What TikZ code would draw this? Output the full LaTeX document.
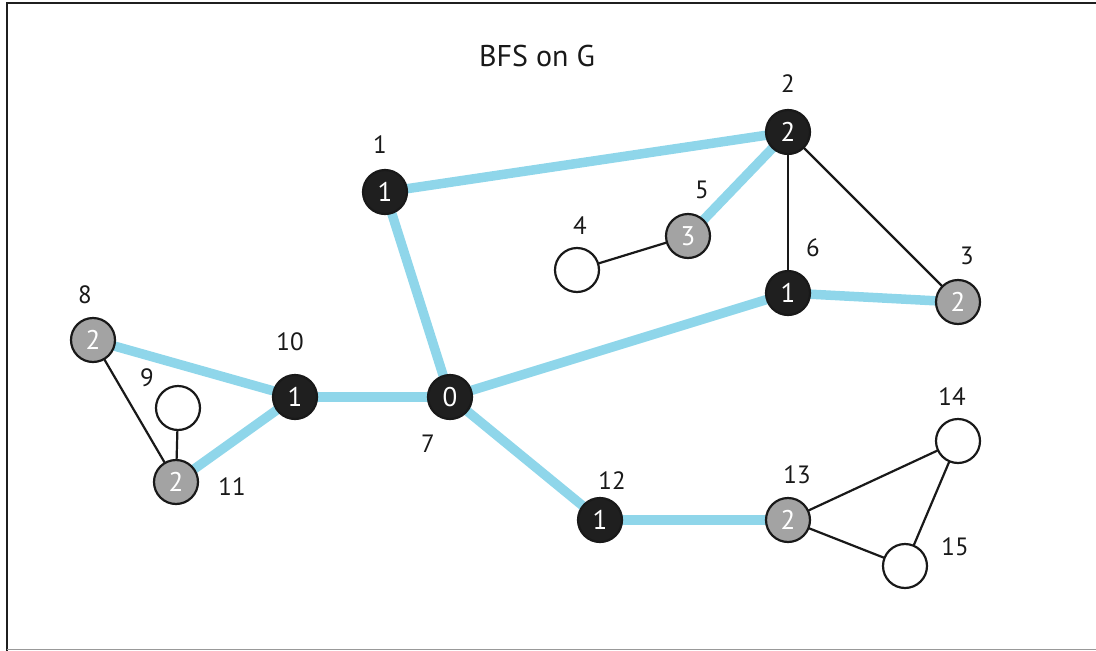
\documentclass[tikz,border=0pt]{standalone}
\usepackage{fontspec}
\setmainfont{PT Sans}
\usetikzlibrary{backgrounds}
\begin{document}
\begin{tikzpicture}[x=1pt,y=-1pt,
  vtx/.style={circle,draw=black!90,line width=2.2pt,minimum size=44pt,inner sep=0pt,font=\fontsize{27}{27}\selectfont},
  blk/.style={vtx,fill=black!88,text=white},
  gry/.style={vtx,fill=black!36,text=white},
  wht/.style={vtx,fill=white},
  lbl/.style={font=\fontsize{25}{25}\selectfont,text=black!90},
  tree/.style={line width=9.5pt,draw=treeblue},
  plain/.style={line width=2.2pt,draw=black!90}]
\definecolor{treeblue}{RGB}{143,214,234}
\useasboundingbox (0,0) rectangle (1096,651);
\draw[line width=2.4pt,black!88] (7,651) -- (7,3) -- (1096,3);
\draw[line width=1pt,black!40] (7,649) -- (1096,649);
\node[font=\fontsize{30}{30}\selectfont,text=black!90] (title) at (537,56) {BFS on G};
% vertices
\node[blk] (v1) at (385,192) {1};
\node[blk] (v2) at (788,132) {2};
\node[gry] (v5) at (688,236) {3};
\node[wht] (v4) at (577,270) {};
\node[blk] (v6) at (788,293) {1};
\node[gry] (v3) at (958,302) {2};
\node[gry] (v8) at (93,340) {2};
\node[wht] (v9) at (178,408) {};
\node[gry] (v11) at (176,482) {2};
\node[blk] (v10) at (295,397) {1};
\node[blk] (v7) at (450,397) {0};
\node[blk] (v12) at (600,520) {1};
\node[gry] (v13) at (788,520) {2};
\node[wht] (v14) at (958,441) {};
\node[wht] (v15) at (905,566) {};
% labels
\node[lbl] (l1) at (380,145) {1};
\node[lbl] (l2) at (788,84) {2};
\node[lbl] (l5) at (702,190) {5};
\node[lbl] (l4) at (580,226) {4};
\node[lbl] (l6) at (813,248) {6};
\node[lbl] (l3) at (967,256) {3};
\node[lbl] (l8) at (85,295) {8};
\node[lbl] (l9) at (147,378) {9};
\node[lbl] (l11) at (232,487) {11};
\node[lbl] (l10) at (290,342) {10};
\node[lbl] (l7) at (428,444) {7};
\node[lbl] (l12) at (612,481) {12};
\node[lbl] (l13) at (797,475) {13};
\node[lbl] (l14) at (952,397) {14};
\node[lbl] (l15) at (955,547) {15};
% edges
\begin{scope}[on background layer]
\draw[tree] (v1.center) -- (v2.center);
\draw[tree] (v2.center) -- (v5.center);
\draw[tree] (v1.center) -- (v7.center);
\draw[tree] (v7.center) -- (v6.center);
\draw[tree] (v6.center) -- (v3.center);
\draw[tree] (v7.center) -- (v10.center);
\draw[tree] (v10.center) -- (v8.center);
\draw[tree] (v10.center) -- (v11.center);
\draw[tree] (v7.center) -- (v12.center);
\draw[tree] (v12.center) -- (v13.center);
\draw[plain] (v2.center) -- (v6.center);
\draw[plain] (v2.center) -- (v3.center);
\draw[plain] (v4.center) -- (v5.center);
\draw[plain] (v8.center) -- (v11.center);
\draw[plain] (v9.center) -- (v11.center);
\draw[plain] (v13.center) -- (v14.center);
\draw[plain] (v13.center) -- (v15.center);
\draw[plain] (v14.center) -- (v15.center);
\end{scope}
\end{tikzpicture}
\end{document}
